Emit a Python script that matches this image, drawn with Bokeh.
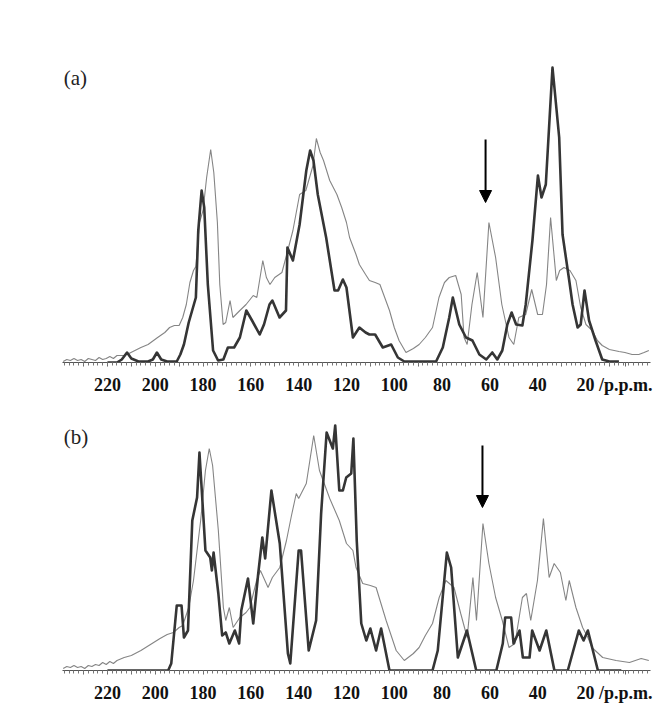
from bokeh.plotting import figure
from bokeh.models import Range1d, FixedTicker, Label, Arrow, NormalHead
from bokeh.layouts import column
from bokeh.embed import file_html
from bokeh.resources import INLINE

# ---------------- data (chemical shift in p.p.m., intensity in a.u.) ----------------
a_thin_ppm = [238.5, 237, 235.5, 234, 232.5, 231, 229.5, 228, 226.5, 225, 223.5, 222, 220.5, 219, 217.5, 216,
              213, 211, 208.5, 206, 203, 199, 196, 194, 192, 190, 188.5, 187, 185.5, 184, 183, 181.5, 180,
              178.5, 176.8, 175.5, 174, 173, 171.6, 170.5, 168.7, 167.5, 164.6, 162, 159, 157.5, 155, 153.5,
              152, 150, 147, 145, 142.4, 139.6, 137, 134, 132.6, 131, 129.6, 127, 124, 122, 120, 118.7, 116,
              114.6, 112, 110.4, 108, 106, 104, 102, 100, 98, 95.1, 92, 89.6, 87, 84, 81.3, 79, 77, 74.3, 72,
              70.8, 69.5, 67.5, 65.3, 62.9, 60.4, 57.6, 55, 52, 50, 47.9, 45, 42.5, 40, 38, 36.3, 34.6, 32.2,
              30.8, 29, 26.5, 24, 22, 19.8, 17.2, 15, 13, 10, 6, 3.5, 0.5, -2.3, -4.5, -6.5]
a_thin_int = [1, 3, 2, 4, 2, 3, 1, 4, 3, 2, 5, 3, 4, 6, 4, 7,
              7, 9, 12, 15, 18, 25, 30, 35, 37, 37, 45, 58, 80, 92, 96, 140, 152,
              185, 213, 190, 140, 78, 38, 40, 62, 45, 52, 58, 67, 65, 102, 85,
              78, 85, 90, 108, 132, 168, 172, 197, 224, 210, 202, 182, 168, 155, 140, 125, 108,
              98, 88, 82, 80, 78, 65, 52, 35, 22, 10, 14, 18, 25, 35, 65, 80, 85, 87, 68,
              25, 18, 58, 90, 45, 140, 105, 58, 25, 18, 45, 48, 73, 48, 48, 78, 145, 82,
              92, 95, 92, 82, 55, 38, 32, 22, 17, 13, 11, 10, 8, 8, 10, 12]

a_thick_ppm = [220, 216, 214, 211.8, 210, 207, 203, 201, 199.3, 197.5, 195, 191, 189.5, 188, 186, 183, 182,
               180.6, 179.5, 178, 175.8, 173.7, 171.5, 169.6, 167, 164.6, 161.9, 159.5, 156.3, 154.5, 152.2,
               151, 148, 145.3, 144.7, 142.4, 139.6, 136.8, 135.2, 133.8, 132, 128.5, 125, 123.5, 121.5, 120,
               117.3, 114.6, 112, 110.4, 108, 104.8, 101.3, 98.5, 95.8, 82.5, 79.7, 77, 75.5, 72.8, 70, 67.3,
               64.4, 61.5, 59, 56.9, 54.8, 52.7, 50.9, 49, 46.4, 45, 42.2, 39.9, 38.4, 36.6, 35, 33.8, 31,
               29.6, 26.8, 25.4, 23.3, 22, 20.4, 18.5, 15.8, 13, 10, 6]
a_thick_int = [0, 0, 3, 10, 4, 1, 1, 3, 10, 3, 1, 1, 8, 18, 40, 65, 132,
               172, 155, 78, 12, 2, 3, 15, 15, 25, 52, 42, 28, 38, 58,
               62, 45, 52, 115, 102, 138, 192, 212, 202, 168, 125, 72, 72, 83, 75,
               25, 35, 30, 28, 28, 15, 18, 5, 1, 1, 15, 45, 65, 38, 25, 22,
               8, 3, 10, 3, 12, 38, 50, 38, 37, 58, 122, 187, 165, 178, 245, 295, 225,
               128, 82, 58, 35, 38, 72, 42, 22, 3, 1, 1]

b_thin_ppm = [238.5, 237, 235.5, 234, 232.5, 231, 229.5, 228, 226.5, 225, 223.5, 222, 220.5, 219, 217.5, 216,
              213, 210, 206, 202, 198, 195, 192.4, 190, 188.5, 186, 184, 182.5, 181, 179, 177.4, 176, 173.6,
              171.5, 170.5, 169, 167.4, 164.6, 162, 160.4, 157.6, 156, 152.8, 151, 147.9, 145.1, 143, 141,
              140, 136.8, 133.7, 131.3, 129, 127, 123, 120, 117.3, 116, 113.2, 110, 107.6, 103.4, 99.2, 95.8,
              92, 89.6, 87, 84, 81.2, 78.4, 75, 72.2, 69.5, 67.1, 65.6, 62.9, 60.4, 57.6, 54.8, 52, 49.5,
              46.4, 44.7, 42.9, 40.1, 37.6, 35.2, 33.1, 30.5, 28.2, 26.8, 24, 21.2, 19, 17.3, 12.8, 7.2, 1.6,
              -3.3, -6.5]
b_thin_int = [2, 4, 3, 5, 3, 4, 2, 5, 4, 6, 5, 8, 6, 9, 7, 10,
              13, 15, 20, 26, 32, 36, 38, 43, 45, 63, 90, 120, 150, 200, 222, 205, 140,
              63, 50, 63, 43, 53, 58, 63, 90, 100, 83, 93, 103, 130, 155, 177,
              172, 187, 235, 200, 185, 172, 150, 127, 120, 103, 87, 85, 83, 50, 20, 10,
              17, 23, 35, 47, 73, 90, 83, 57, 33, 93, 50, 147, 107, 73, 50, 23, 27,
              73, 77, 50, 90, 152, 93, 107, 98, 70, 90, 63, 43, 33, 23, 13, 10, 8,
              12, 10]

b_thick_ppm = [220, 194.6, 193.3, 191, 189, 188, 186.3, 184.5, 182.5, 181.5, 179, 177, 176.3, 175.6, 173.6,
               172, 170.5, 169, 166.7, 164.9, 164, 161.2, 159, 157, 155.2, 154, 151.4, 147.9, 144.5, 143.5,
               140, 139, 135.8, 132.7, 130.6, 128.3, 125.7, 124.7, 123, 121.5, 120.1, 118, 117.1, 115.7,
               113.8, 111.7, 110, 107.6, 105.5, 102, 84, 81.8, 78, 76.2, 73.4, 69.6, 65.7, 57.3, 54.6, 53.6,
               51.1, 50.1, 47.6, 46.2, 43.4, 42.3, 39.2, 36.4, 33, 27.4, 22.8, 20.8, 19, 14.8, 5]
b_thick_int = [0, 0, 7, 65, 65, 33, 40, 150, 173, 218, 120, 113, 100, 118, 77,
               35, 38, 27, 40, 27, 60, 92, 47, 95, 133, 112, 180, 127, 17, 7,
               120, 120, 20, 50, 157, 238, 222, 245, 180, 180, 193, 197, 232, 130,
               47, 30, 42, 20, 42, 0, 0, 20, 118, 103, 13, 40, 0, 0, 27, 53,
               53, 27, 40, 13, 13, 40, 20, 40, 0, 0, 40, 30, 40, 0, 0]

# axis: labelled ticks every 20 p.p.m., unit label after the last one
major_ticks = list(range(10, 240, 10)) + [3.2]
minor_ticks = list(range(-6, 240, 2))
tick_labels = {t: (str(t) if t % 20 == 0 else "") for t in range(10, 240, 10)}
tick_labels[3.2] = "/p.p.m."

SERIF = "Liberation Serif"
THIN_COLOR = "#858585"
THICK_COLOR = "#353535"


def make_panel(tag, thin_x, thin_y, thick_x, thick_y, height, top_border, bottom_border, ymax,
               tag_y, arrow_x, arrow_y0, arrow_y1):
    p = figure(width=663, height=height, output_backend="svg", toolbar_location=None,
               x_range=Range1d(238.8, -7.2), y_range=Range1d(0, ymax),
               y_axis_location=None, min_border_left=62, min_border_right=13,
               min_border_top=top_border, min_border_bottom=bottom_border)
    p.outline_line_color = None
    p.xgrid.visible = False
    p.ygrid.visible = False
    p.background_fill_color = "white"

    p.line(thin_x, thin_y, line_color=THIN_COLOR, line_width=1.1)
    p.line(thick_x, thick_y, line_color=THICK_COLOR, line_width=2.6, line_join="round")

    ax = p.xaxis[0]
    ax.ticker = FixedTicker(ticks=major_ticks, minor_ticks=minor_ticks)
    ax.major_label_overrides = tick_labels
    ax.axis_line_color = "#555555"
    ax.axis_line_width = 1.2
    ax.major_tick_line_color = "#666666"
    ax.minor_tick_line_color = "#777777"
    ax.major_tick_in = 0
    ax.major_tick_out = 4
    ax.minor_tick_in = 0
    ax.minor_tick_out = 3
    ax.major_label_standoff = 8
    ax.major_label_text_font = SERIF
    ax.major_label_text_font_style = "bold"
    ax.major_label_text_font_size = "18px"
    ax.major_label_text_color = "#111111"

    p.add_layout(Label(x=238.3, y=tag_y, text=tag, text_font=SERIF, text_font_size="21px",
                       text_align="left", text_baseline="middle", text_color="#222222"))
    p.add_layout(Arrow(end=NormalHead(size=12, fill_color="black", line_color="black"),
                       x_start=arrow_x, y_start=arrow_y0, x_end=arrow_x, y_end=arrow_y1,
                       line_color="black", line_width=2))
    return p


pa = make_panel("(a)", a_thin_ppm, a_thin_int, a_thick_ppm, a_thick_int,
                height=400, top_border=18, bottom_border=38, ymax=344,
                tag_y=285, arrow_x=61.8, arrow_y0=223, arrow_y1=160)
pb = make_panel("(b)", b_thin_ppm, b_thin_int, b_thick_ppm, b_thick_int,
                height=316, top_border=10, bottom_border=46, ymax=260,
                tag_y=234, arrow_x=63.1, arrow_y0=225, arrow_y1=163)

layout = column(pa, pb)
open("out.html", "w").write(file_html(layout, INLINE))
